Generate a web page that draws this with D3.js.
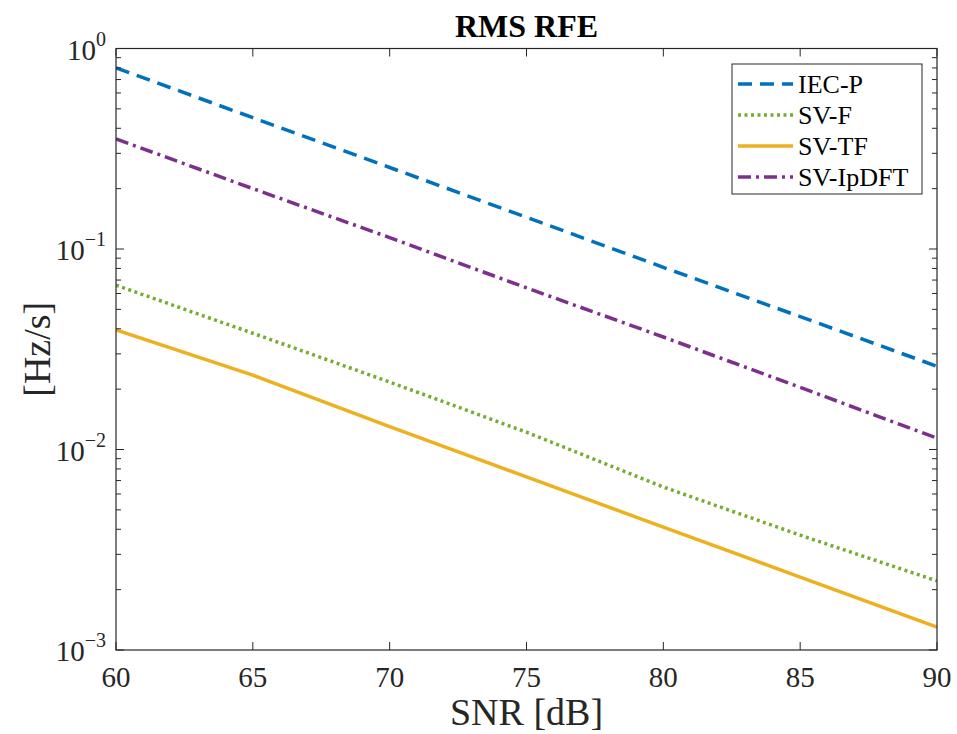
<!DOCTYPE html>
<html>
<head>
<meta charset="utf-8">
<script src="https://cdn.jsdelivr.net/npm/d3@7"></script>
<style>
  body { margin: 0; background: #fff; }
</style>
</head>
<body>
<div id="chart"></div>
<script>
// ---- data ----
const snr = [60, 65, 70, 75, 80, 85, 90];
const iecP = [0.80, 0.452, 0.255, 0.144, 0.081, 0.046, 0.026];
const svF = [0.066, 0.038, 0.0217, 0.0122, 0.0065, 0.00374, 0.00221];
const svTF = [0.0395, 0.0235, 0.0130, 0.0073, 0.0041, 0.00231, 0.0013];
const svIpDFT = [0.354, 0.200, 0.114, 0.064, 0.0364, 0.0204, 0.0114];
const xTicks = [60, 65, 70, 75, 80, 85, 90];
const yExps = [0, -1, -2, -3];

const seriesNames = ["IEC-P", "SV-F", "SV-TF", "SV-IpDFT"];
const seriesVals = [iecP, svF, svTF, svIpDFT];
const colors = ["#0072BD", "#77AC30", "#EDB120", "#7E2F8E"];
const dashes = ["14,8", "3,3.5", null, "13,5,3,5"];

const FONT = "'Liberation Serif', 'DejaVu Serif', serif";
const W = 957, H = 734;
const m = { left: 116, right: 20, top: 48.5, bottom: 84 };
const iw = W - m.left - m.right, ih = H - m.top - m.bottom;

const svg = d3.select("#chart").append("svg")
  .attr("width", W).attr("height", H)
  .attr("font-family", FONT);

const x = d3.scaleLinear().domain([60, 90]).range([0, iw]);
const y = d3.scaleLog().domain([1e-3, 1]).range([ih, 0]);

const g = svg.append("g").attr("transform", `translate(${m.left},${m.top})`);

// clip so lines don't spill past the box
g.append("clipPath").attr("id", "clip")
  .append("rect").attr("width", iw).attr("height", ih);

// ---- lines ----
const line = d3.line().x((d, i) => x(snr[i])).y(d => y(d));
seriesVals.forEach((vals, k) => {
  g.append("path")
    .datum(vals)
    .attr("clip-path", "url(#clip)")
    .attr("fill", "none")
    .attr("stroke", colors[k])
    .attr("stroke-width", 3.5)
    .attr("stroke-dasharray", dashes[k])
    .attr("d", line);
});

// ---- axes (MATLAB style, ticks inside, box on) ----
const axColor = "#262626";
const majorLen = 8, minorLen = 5;

// x ticks bottom + top
xTicks.forEach(t => {
  const px = x(t);
  g.append("line").attr("x1", px).attr("x2", px).attr("y1", ih).attr("y2", ih - majorLen)
    .attr("stroke", axColor).attr("stroke-width", 1);
  g.append("line").attr("x1", px).attr("x2", px).attr("y1", 0).attr("y2", majorLen)
    .attr("stroke", axColor).attr("stroke-width", 1);
  g.append("text").attr("x", px).attr("y", ih + 37)
    .attr("text-anchor", "middle").attr("font-size", 29).attr("fill", axColor).text(t);
});

// y ticks (major + minor) left + right
yExps.forEach(e => {
  const py = y(Math.pow(10, e));
  [[0, majorLen], [iw, iw - majorLen]].forEach(([a, b]) => {
    g.append("line").attr("x1", a).attr("x2", b).attr("y1", py).attr("y2", py)
      .attr("stroke", axColor).attr("stroke-width", 1);
  });
  const lab = g.append("text").attr("x", -10).attr("y", py + 11)
    .attr("text-anchor", "end").attr("font-size", 29).attr("fill", axColor);
  lab.append("tspan").text("10");
  lab.append("tspan").attr("dy", -14).attr("font-size", 20)
    .text(e === 0 ? "0" : "\u2212" + Math.abs(e));
  if (e > -3) {
    for (let k = 2; k <= 9; k++) {
      const py2 = y(k * Math.pow(10, e - 1));
      [[0, minorLen], [iw, iw - minorLen]].forEach(([a, b]) => {
        g.append("line").attr("x1", a).attr("x2", b).attr("y1", py2).attr("y2", py2)
          .attr("stroke", axColor).attr("stroke-width", 1);
      });
    }
  }
});

// box
g.append("rect").attr("width", iw).attr("height", ih)
  .attr("fill", "none").attr("stroke", axColor).attr("stroke-width", 1.2);

// ---- labels ----
svg.append("text").attr("x", m.left + iw / 2).attr("y", 37)
  .attr("text-anchor", "middle").attr("font-size", 32).attr("font-weight", "bold")
  .attr("fill", "#000").text("RMS RFE");
svg.append("text").attr("x", m.left + iw / 2).attr("y", 725)
  .attr("text-anchor", "middle").attr("font-size", 38).attr("fill", axColor).text("SNR [dB]");
svg.append("text")
  .attr("transform", `translate(50,${m.top + ih / 2}) rotate(-90)`)
  .attr("text-anchor", "middle").attr("font-size", 38).attr("fill", axColor).text("[Hz/s]");

// ---- legend ----
const lg = svg.append("g").attr("transform", "translate(732,64)");
lg.append("rect").attr("width", 190).attr("height", 130)
  .attr("fill", "#fff").attr("stroke", axColor).attr("stroke-width", 1);
seriesNames.forEach((n, k) => {
  const ly = 20 + k * 31;
  lg.append("line").attr("x1", 6).attr("x2", 61).attr("y1", ly).attr("y2", ly)
    .attr("stroke", colors[k]).attr("stroke-width", 3.5)
    .attr("stroke-dasharray", dashes[k]);
  lg.append("text").attr("x", 66).attr("y", ly + 9)
    .attr("font-size", 26).attr("fill", "#000").text(n);
});
</script>
</body>
</html>
